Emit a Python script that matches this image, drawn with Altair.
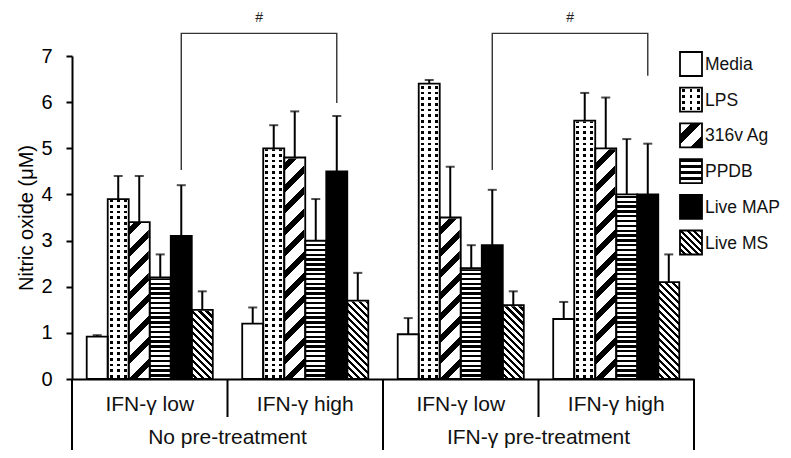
import altair as alt
import pandas as pd

FONT = "Liberation Sans, Arial, sans-serif"

series = ["Media", "LPS", "316v Ag", "PPDB", "Live MAP", "Live MS"]
cats = ["No pre-treatment | IFN-γ low", "No pre-treatment | IFN-γ high",
        "IFN-γ pre-treatment | IFN-γ low", "IFN-γ pre-treatment | IFN-γ high"]
level1_labels = ["IFN-γ low", "IFN-γ high", "IFN-γ low", "IFN-γ high"]
level2_labels = ["No pre-treatment", "IFN-γ pre-treatment"]

mean_no_low = [0.92, 3.9, 3.4, 2.2, 3.1, 1.5]
err_no_low = [0.03, 0.5, 1.0, 0.5, 1.1, 0.4]
mean_no_high = [1.2, 5.0, 4.8, 3.0, 4.5, 1.7]
err_no_high = [0.35, 0.5, 1.0, 0.9, 1.2, 0.6]
mean_pre_low = [0.97, 6.4, 3.5, 2.4, 2.9, 1.6]
err_pre_low = [0.35, 0.08, 1.1, 0.5, 1.2, 0.3]
mean_pre_high = [1.3, 5.6, 5.0, 4.0, 4.0, 2.1]
err_pre_high = [0.37, 0.6, 1.1, 1.2, 1.1, 0.6]

bracket_from = [cats[0], cats[2]]
bracket_to = [cats[1], cats[3]]
bracket_left_y = [4.53, 4.53]
bracket_top_y = [7.49, 7.49]
bracket_right_y = [5.98, 6.57]
bracket_label = ["#", "#"]
bracket_label_y = [7.82, 7.82]

# ---------- tables ----------
means = [mean_no_low, mean_no_high, mean_pre_low, mean_pre_high]
errs = [err_no_low, err_no_high, err_pre_low, err_pre_high]
rows = []
for c, m, e in zip(cats, means, errs):
    for s, v, er in zip(series, m, e):
        rows.append({"cat": c, "series": s, "value": v, "err": er})
df = pd.DataFrame(rows)

brows = []
for i in range(len(bracket_from)):
    brows += [
        {"id": i, "o": 0, "cat": bracket_from[i], "series": "Live MAP", "y": bracket_left_y[i]},
        {"id": i, "o": 1, "cat": bracket_from[i], "series": "Live MAP", "y": bracket_top_y[i]},
        {"id": i, "o": 2, "cat": bracket_to[i], "series": "Live MAP", "y": bracket_top_y[i]},
        {"id": i, "o": 3, "cat": bracket_to[i], "series": "Live MAP", "y": bracket_right_y[i]},
    ]
bdf = pd.DataFrame(brows)
hdf = pd.DataFrame({"cat": bracket_from, "series": ["Live MAP"] * 2,
                    "label": bracket_label, "y": bracket_label_y})

# ---------- layout ----------
W, H = 622, 323
OUTER = 0.7
BAR_W = W / 4 / (len(series) + 2 * OUTER)
BLACK, WHITE, CLEAR = "black", "white", "rgba(255,255,255,0)"


def stripes(kind, n, a, b, on, off, w=1.0, h=1.0):
    stops = []
    for i in range(n):
        for off_, col in [(i, off), (i + a, off), (i + a, on), (i + b, on), (i + b, off), (i + 1, off)]:
            stops.append({"offset": round(min(off_ / n, 1.0), 6), "color": col})
    if kind == "h":
        c = dict(x1=0, y1=0, x2=0, y2=1)
    elif kind == "v":
        c = dict(x1=0, y1=0, x2=1, y2=0)
    elif kind == "/":
        s = (w + h) / (w * w + h * h)
        c = dict(x1=0, y1=0, x2=w * s, y2=h * s)
    else:  # "\"
        s = (w + h) / (w * w + h * h)
        c = dict(x1=1, y1=0, x2=1 - w * s, y2=h * s)
    return dict(gradient="linear", stops=stops, **c)


yscale = alt.Scale(domain=[0, 7], nice=False, zero=True)
yaxis = alt.Axis(values=list(range(8)), title="Nitric oxide (μM)", grid=False,
                 domainColor="black", domainWidth=2, tickColor="black", tickWidth=2,
                 tickSize=6, labelPadding=14, labelFontSize=20, labelColor="black",
                 labelFont=FONT, titleFont=FONT, titleFontSize=20,
                 titleFontWeight="normal", titleColor="black", titlePadding=4)
xscale = alt.Scale(domain=cats, paddingInner=0, paddingOuter=0)
xaxis = alt.Axis(labels=False, ticks=False, title=None, domainColor="black",
                 domainWidth=2, grid=False)
xoscale = alt.Scale(domain=series, paddingInner=0, paddingOuter=OUTER)

X = alt.X("cat:N", scale=xscale, axis=xaxis)
XO = alt.XOffset("series:N", scale=xoscale)


def Yq(f):
    return alt.Y(f, type="quantitative", scale=yscale, axis=yaxis)


def Yd(v):
    return alt.YDatum(datum=v, type="quantitative", scale=yscale, axis=yaxis)


base = alt.Chart(df)


def full_bar(s, fill):
    return base.transform_filter(alt.datum.series == s).mark_bar(fill=fill).encode(
        x=X, xOffset=XO, y=Yd(0), y2=alt.Y2Datum(datum=7))


hb = H
layers = [
    full_bar("LPS", BLACK),
    full_bar("LPS", stripes("h", 57, 0.3, 0.75, CLEAR, WHITE)),
    full_bar("LPS", stripes("v", 3, 0.3, 0.7, CLEAR, WHITE)),
    full_bar("316v Ag", stripes("/", 16, 0.0, 0.38, BLACK, WHITE, BAR_W, hb)),
    full_bar("PPDB", stripes("h", 67, 0.0, 0.5, BLACK, WHITE)),
    full_bar("Live MS", stripes("\\", 49, 0.0, 0.45, BLACK, WHITE, BAR_W, hb)),
    base.transform_filter(alt.FieldOneOfPredicate(field="series", oneOf=["LPS", "316v Ag", "PPDB", "Live MS"]))
        .mark_bar(fill="white", stroke="white", strokeWidth=2).encode(
            x=X, xOffset=XO, y=Yq("value"), y2=alt.Y2Datum(datum=7)),
    base.mark_bar(stroke="black", strokeWidth=1.8).encode(
        x=X, xOffset=XO, y=Yq("value"),
        fill=alt.Fill("series:N", scale=alt.Scale(domain=series, range=[
            "white", CLEAR, CLEAR, CLEAR, "black", CLEAR]), legend=None)),
    base.transform_calculate(hi="datum.value + datum.err").mark_rule(color="black", strokeWidth=2).encode(
        x=X, xOffset=XO, y=Yq("value"), y2="hi:Q"),
    base.transform_calculate(hi="datum.value + datum.err").mark_tick(color="black", thickness=2, size=9).encode(
        x=X, xOffset=XO, y=Yq("hi:Q")),
    alt.Chart(bdf).mark_line(color="#333333", strokeWidth=1.4).encode(
        x=X, xOffset=XO, y=Yq("y:Q"), detail="id:N", order="o:Q"),
    alt.Chart(hdf).mark_text(fontSize=14, font=FONT, color="#222222", dx=W / 8, baseline="middle").encode(
        x=X, xOffset=XO, y=Yq("y:Q"), text="label:N"),
    alt.Chart(pd.DataFrame({"cat": cats, "label": level1_labels})).mark_text(
        fontSize=21, font=FONT, color="#111111", baseline="middle").encode(
        x=X, y=alt.value(H + 26), text="label:N"),
    alt.Chart(pd.DataFrame({"cat": [cats[0], cats[2]], "label": level2_labels})).mark_text(
        fontSize=21, font=FONT, color="#111111", baseline="alphabetic").encode(
        x=alt.X("cat:N", scale=xscale, axis=xaxis, bandPosition=1), y=alt.value(H + 65), text="label:N"),
    alt.Chart(pd.DataFrame({"cat": [cats[0], cats[2]]})).mark_rule(color="black", strokeWidth=2).encode(
        x=alt.X("cat:N", scale=xscale, axis=xaxis, bandPosition=0), y=alt.value(H), y2=alt.value(H + 71)),
    alt.Chart(pd.DataFrame({"cat": [cats[3]]})).mark_rule(color="black", strokeWidth=2).encode(
        x=alt.X("cat:N", scale=xscale, axis=xaxis, bandPosition=1), y=alt.value(H), y2=alt.value(H + 71)),
    alt.Chart(pd.DataFrame({"cat": [cats[1], cats[3]]})).mark_rule(color="black", strokeWidth=2).encode(
        x=alt.X("cat:N", scale=xscale, axis=xaxis, bandPosition=0), y=alt.value(H), y2=alt.value(H + 38)),
]

# ---------- legend ----------
LX0, LX1 = 608, 630
LBW, LBH = LX1 - LX0, 24
legend_fills = {
    "Media": [],
    "LPS": [BLACK, stripes("h", 4, 0.3, 0.7, CLEAR, WHITE), stripes("v", 3, 0.3, 0.7, CLEAR, WHITE)],
    "316v Ag": [stripes("/", 2, 0.5, 0.9, BLACK, WHITE, LBW, LBH)],
    "PPDB": [stripes("h", 4, 0.0, 0.55, BLACK, WHITE)],
    "Live MAP": [],
    "Live MS": [stripes("\\", 7, 0.0, 0.45, BLACK, WHITE, LBW, LBH)],
}
legend_base_fill = {"Media": "white", "LPS": CLEAR, "316v Ag": CLEAR, "PPDB": CLEAR,
                    "Live MAP": "black", "Live MS": CLEAR}
for i, s in enumerate(series):
    yc = 8 + i * 35.7
    one = alt.Chart(pd.DataFrame({"series": [s]}))
    for f in legend_fills[s]:
        layers.append(one.mark_rect(fill=f).encode(
            x=alt.value(LX0), x2=alt.value(LX1), y=alt.value(yc - LBH / 2), y2=alt.value(yc + LBH / 2)))
    layers.append(one.mark_rect(fill=legend_base_fill[s], stroke="black", strokeWidth=1.8).encode(
        x=alt.value(LX0), x2=alt.value(LX1), y=alt.value(yc - LBH / 2), y2=alt.value(yc + LBH / 2)))
    layers.append(one.mark_text(align="left", baseline="middle", fontSize=17.5, font=FONT,
                                color="#111111").encode(
        x=alt.value(LX1 + 3), y=alt.value(yc + 1), text="series:N"))

chart = alt.layer(*layers).properties(
    width=W, height=H,
    autosize=alt.AutoSizeParams(type="none"),
    padding={"left": 64, "top": 48, "right": 89, "bottom": 71},
    background="white",
).configure_view(stroke=None)

chart.save("out.html", embed_options={"renderer": "svg", "actions": False})
